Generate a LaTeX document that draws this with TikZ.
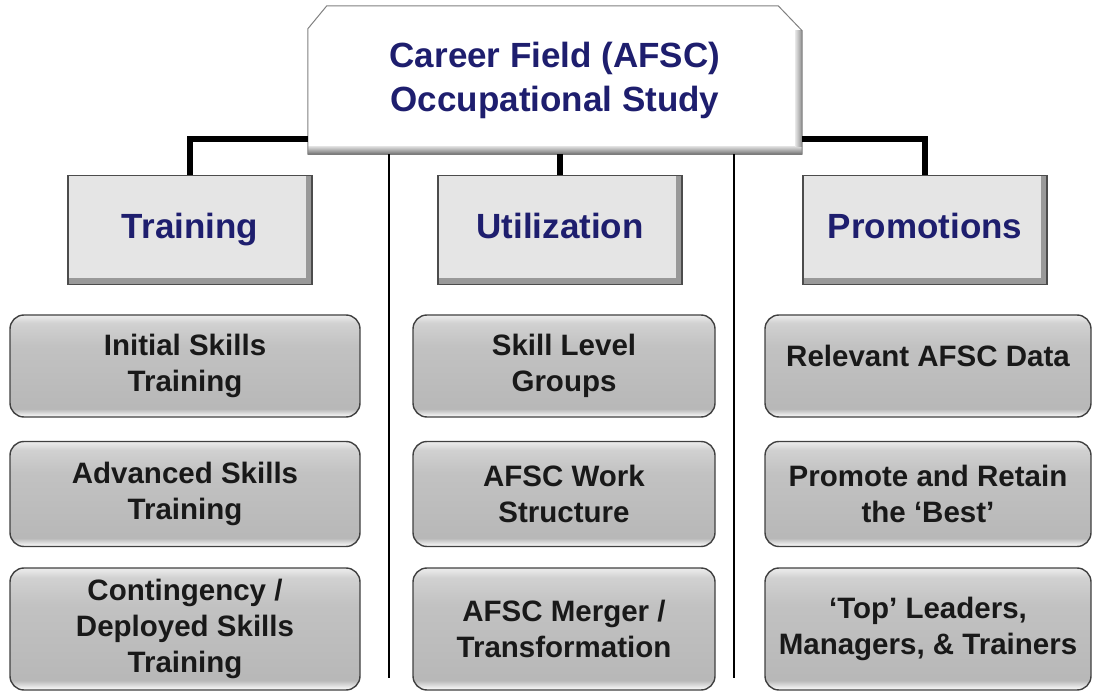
\documentclass[tikz,border=0pt]{standalone}
\usepackage{fontspec}
\setmainfont{Liberation Sans}
\usepackage{tikz}
\usetikzlibrary{positioning, backgrounds}
\usepackage{xcolor}
\definecolor{navy}{RGB}{30,30,110}
\pgfdeclareverticalshading{itemshade}{100bp}{color(0bp)=(white); color(25bp)=(white); color(29bp)=(black!28); color(60bp)=(black!24); color(71bp)=(black!18); color(75bp)=(black!7); color(100bp)=(black!7)}
\tikzset{%
	study box/.style={
		minimum width=494pt,
		minimum height=148pt,
		align=center,
		text=navy,
		font=\fontsize{35}{44}\selectfont\bfseries
	},
	area box/.style={
		draw=black!70,
		line width=1.2pt,
		fill=black!10,
		minimum width=244pt,
		minimum height=109pt,
		text height=26pt,
		text depth=8pt,
		text=navy,
		font=\fontsize{35}{42}\selectfont\bfseries,
		path picture={
			\fill[black!40] ([xshift=-6pt]path picture bounding box.north east) rectangle (path picture bounding box.south east);
			\fill[black!40] (path picture bounding box.south west) rectangle ([yshift=6pt]path picture bounding box.south east);
		}
	},
	item box/.style={
		draw=black!75,
		line width=1.4pt,
		rounded corners=14pt,
		shade, shading=itemshade,
		align=center,
		inner sep=0pt,
		text=black!90,
		font=\fontsize{29.5}{36}\selectfont\bfseries
	},
}

\begin{document}
\begin{tikzpicture}[
			x=1pt, y=-1pt,
			link/.style={draw, line width=6pt},
			divider/.style={draw, line width=1.3pt}
			]
			\useasboundingbox (0,0) rectangle (1093,692);
			
			% Study and its three areas
			\node[study box] (study) at (555,80) {Career Field (AFSC)\\Occupational Study};
			\node[area box] (train) at (190,230) {Training};
			\node[area box] (util) at (560,230) {Utilization};
			\node[area box] (promo) at (925,230) {Promotions};
			
			\begin{scope}[on background layer]
				\fill[white] ([yshift=-23pt]study.north west) -- ([xshift=19pt]study.north west) -- ([xshift=-24pt]study.north east) -- ([yshift=-25pt]study.north east) -- (study.south east) -- (study.south west) -- cycle;
				\shade[top color=black!12, bottom color=black!55] ([yshift=8pt]study.south west) rectangle (study.south east);
				\shade[left color=black!10, right color=black!45] ([xshift=-7pt,yshift=-25pt]study.north east) rectangle ([yshift=8pt]study.south east);
				\draw[black!50, line width=1pt] ([yshift=-23pt]study.north west) -- ([xshift=19pt]study.north west) -- ([xshift=-24pt]study.north east) -- ([yshift=-25pt]study.north east) -- (study.south east) -- (study.south west) -- cycle;
			\end{scope}
			
			% Items of each area
			\node[item box, minimum width=350pt, minimum height=102pt] (init) at (185,366) {Initial Skills\\Training};
			\node[item box, minimum width=350pt, minimum height=105pt] (adv) at (185,494) {Advanced Skills\\Training};
			\node[item box, minimum width=350pt, minimum height=122pt] (cont) at (185,629) {Contingency /\\Deployed Skills\\Training};
			
			\node[item box, minimum width=302pt, minimum height=102pt] (skill) at (564,366) {Skill Level\\Groups};
			\node[item box, minimum width=302pt, minimum height=105pt] (work) at (564,494) {AFSC Work\\Structure};
			\node[item box, minimum width=302pt, minimum height=122pt] (merge) at (564,629) {AFSC Merger /\\Transformation};
			
			\node[item box, minimum width=326pt, minimum height=102pt, text depth=20pt] (data) at (928,366) {Relevant AFSC Data};
			\node[item box, minimum width=326pt, minimum height=105pt] (best) at (928,494) {Promote and Retain\\the `Best'};
			\node[item box, minimum width=326pt, minimum height=122pt] (lead) at (928,629) {`Top' Leaders,\\Managers, \& Trainers};
			
			% Connectors
			\draw[link] ([yshift=15pt]study.south west) -| (train.north);
			\draw[link] ([yshift=15pt]study.south east) -| (promo.north);
			\draw[link] (util.north) -- (util.north |- study.south);
			
			\coordinate (divL) at (389,678);
			\coordinate (divR) at (734,678);
			\draw[divider] (divL |- study.south) -- (divL);
			\draw[divider] (divR |- study.south) -- (divR);
			
		\end{tikzpicture}
\end{document}
